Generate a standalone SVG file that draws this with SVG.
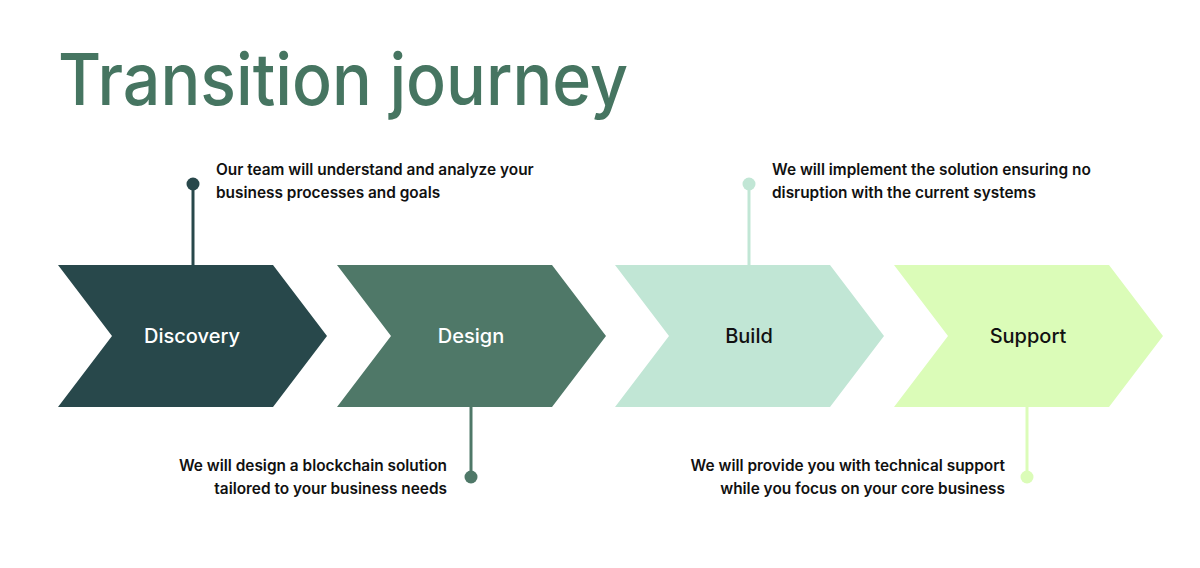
<svg xmlns="http://www.w3.org/2000/svg" width="1200" height="568" viewBox="0 0 1200 568">
<style>
.title{font-family:Inter,"Liberation Sans",sans-serif;font-size:72px;font-weight:500;fill:#467561}
.lbl{font-family:Inter,"Liberation Sans",sans-serif;font-size:20px;font-weight:500;text-anchor:middle}
.desc{font-family:Inter,"Liberation Sans",sans-serif;font-size:15.4px;font-weight:600;fill:#111}
.r{text-anchor:end}
</style>
<defs>
<path id="chev" d="M0,265 L215,265 L269,336 L215,407 L0,407 L54,336 Z"/>
</defs>
<rect width="1200" height="568" fill="#fff"/>
<text class="title" x="58" y="105" textLength="570" lengthAdjust="spacingAndGlyphs">Transition journey</text>

<g id="connectors" stroke-width="3">
<line x1="193" y1="184" x2="193" y2="266" stroke="#28484b"/>
<circle cx="193" cy="184" r="6.5" fill="#28484b" stroke="none"/>
<line x1="471" y1="406" x2="471" y2="477" stroke="#4f7868"/>
<circle cx="471" cy="477" r="6.5" fill="#4f7868" stroke="none"/>
<line x1="749" y1="184" x2="749" y2="266" stroke="#c1e6d5"/>
<circle cx="749" cy="184" r="6.5" fill="#c1e6d5" stroke="none"/>
<line x1="1027" y1="406" x2="1027" y2="477" stroke="#dbfcb8"/>
<circle cx="1027" cy="477" r="6.5" fill="#dbfcb8" stroke="none"/>
</g>

<g id="discovery">
<use href="#chev" x="58" fill="#28484b"/>
<text class="lbl" x="192" y="343" fill="#fff">Discovery</text>
<text class="desc" x="216" y="175">Our team will understand and analyze your</text>
<text class="desc" x="216" y="198">business processes and goals</text>
</g>
<g id="design">
<use href="#chev" x="337" fill="#4f7868"/>
<text class="lbl" x="471" y="343" fill="#fff">Design</text>
<text class="desc r" x="447" y="471">We will design a blockchain solution</text>
<text class="desc r" x="447" y="494">tailored to your business needs</text>
</g>
<g id="build">
<use href="#chev" x="615" fill="#c1e6d5"/>
<text class="lbl" x="749" y="343" fill="#111">Build</text>
<text class="desc" x="772" y="175">We will implement the solution ensuring no</text>
<text class="desc" x="772" y="198">disruption with the current systems</text>
</g>
<g id="support">
<use href="#chev" x="894" fill="#dbfcb8"/>
<text class="lbl" x="1028" y="343" fill="#111">Support</text>
<text class="desc r" x="1005" y="471">We will provide you with technical support</text>
<text class="desc r" x="1005" y="494">while you focus on your core business</text>
</g>
</svg>
